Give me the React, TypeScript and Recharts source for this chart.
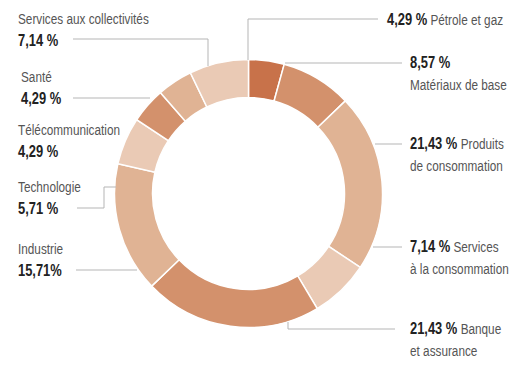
import { PieChart, Pie, Cell } from "recharts";

const sectors = [
  "Pétrole et gaz",
  "Matériaux de base",
  "Produits de consommation",
  "Services à la consommation",
  "Banque et assurance",
  "Industrie",
  "Technologie",
  "Santé",
  "Télécommunication",
  "Services aux collectivités",
];
const weights = [4.29, 8.57, 21.43, 7.14, 21.43, 15.71, 5.71, 4.29, 4.29, 7.14];
const valueLabels = [
  "4,29 %",
  "8,57 %",
  "21,43 %",
  "7,14 %",
  "21,43 %",
  "15,71%",
  "5,71 %",
  "4,29 %",
  "4,29 %",
  "7,14 %",
];
// how each sector name is broken into lines
const nameLines = [
  ["Pétrole et gaz"],
  ["Matériaux de base"],
  ["Produits", "de consommation"],
  ["Services", "à la consommation"],
  ["Banque", "et assurance"],
  ["Industrie"],
  ["Technologie"],
  ["Santé"],
  ["Télécommunication"],
  ["Services aux collectivités"],
];

const COLORS = [
  "#c8724a",
  "#d3916c",
  "#e0b394",
  "#eacab5",
  "#d3916c",
  "#e0b394",
  "#eacab5",
  "#d3916c",
  "#e0b394",
  "#eacab5",
];

type Mode = "inline" | "valueFirst" | "nameFirst";
interface LabelLayout {
  mode: Mode;
  x: number;
  y: number;
  leader: [number, number][];
}

const LABEL_LAYOUT: LabelLayout[] = [
  { mode: "inline", x: 387, y: 25, leader: [[248, 60], [248, 19], [378, 19]] },
  { mode: "valueFirst", x: 410, y: 68, leader: [[285, 63], [402, 63]] },
  { mode: "inline", x: 410, y: 149, leader: [[375, 144], [402, 144]] },
  { mode: "inline", x: 410, y: 252, leader: [[373, 247], [402, 247]] },
  { mode: "inline", x: 410, y: 334, leader: [[288, 322], [288, 329], [395, 329]] },
  { mode: "nameFirst", x: 18, y: 254, leader: [[76, 270], [137, 270]] },
  { mode: "nameFirst", x: 18, y: 192, leader: [[77, 208], [104, 208], [104, 187], [116, 187]] },
  { mode: "nameFirst", x: 21, y: 82, leader: [[73, 98], [150, 98]] },
  { mode: "nameFirst", x: 18, y: 135, leader: [] },
  { mode: "nameFirst", x: 18, y: 24, leader: [[73, 39], [208, 39], [208, 66]] },
];

const data = sectors.map((name, i) => ({ name, value: weights[i] }));

// condensed look: Liberation Sans squeezed horizontally
const FONT = "'Liberation Sans', Arial, sans-serif";
const SQUEEZE = 0.76;
const LINE_GAP = 21.5;
const boldStyle = { fontWeight: 700, fontSize: 17, fill: "#222" };
const regStyle = { fontWeight: 400, fontSize: 15.5, fill: "#555" };

function Line({ x, y, children }: { x: number; y: number; children: any }) {
  return (
    <text
      transform={`translate(${x},${y}) scale(${SQUEEZE},1)`}
      x={0}
      y={0}
      fontFamily={FONT}
    >
      {children}
    </text>
  );
}

function SectorLabel(props: any) {
  const i: number = props.index;
  const layout = LABEL_LAYOUT[i];
  if (!layout) return null;
  const lines = nameLines[i];
  const { x, y, mode } = layout;

  let text;
  if (mode === "inline") {
    text = (
      <>
        <Line x={x} y={y}>
          <tspan {...boldStyle}>{valueLabels[i]}</tspan>
          <tspan {...regStyle}> {lines[0]}</tspan>
        </Line>
        {lines[1] && (
          <Line x={x} y={y + LINE_GAP}>
            <tspan {...regStyle}>{lines[1]}</tspan>
          </Line>
        )}
      </>
    );
  } else if (mode === "valueFirst") {
    text = (
      <>
        <Line x={x} y={y}>
          <tspan {...boldStyle}>{valueLabels[i]}</tspan>
        </Line>
        <Line x={x} y={y + LINE_GAP}>
          <tspan {...regStyle}>{lines.join(" ")}</tspan>
        </Line>
      </>
    );
  } else {
    text = (
      <>
        <Line x={x} y={y}>
          <tspan {...regStyle}>{lines.join(" ")}</tspan>
        </Line>
        <Line x={x} y={y + LINE_GAP}>
          <tspan {...boldStyle}>{valueLabels[i]}</tspan>
        </Line>
      </>
    );
  }

  return (
    <g>
      {layout.leader.length > 0 && (
        <polyline
          points={layout.leader.map((p) => p.join(",")).join(" ")}
          fill="none"
          stroke="#b5b5b5"
          strokeWidth={1}
        />
      )}
      {text}
    </g>
  );
}

export default function App() {
  return (
    <div style={{ margin: -8, width: 527, height: 365, background: "#fff" }}>
      <PieChart width={527} height={365} margin={{ top: 0, right: 0, bottom: 0, left: 0 }}>
        <Pie
          data={data}
          dataKey="value"
          nameKey="name"
          cx={248.5}
          cy={193.5}
          innerRadius={96}
          outerRadius={134}
          startAngle={90}
          endAngle={-270}
          stroke="#ffffff"
          strokeWidth={1.5}
          label={SectorLabel}
          labelLine={false}
          isAnimationActive={false}
        >
          {data.map((d, i) => (
            <Cell key={d.name} fill={COLORS[i]} />
          ))}
        </Pie>
      </PieChart>
    </div>
  );
}
